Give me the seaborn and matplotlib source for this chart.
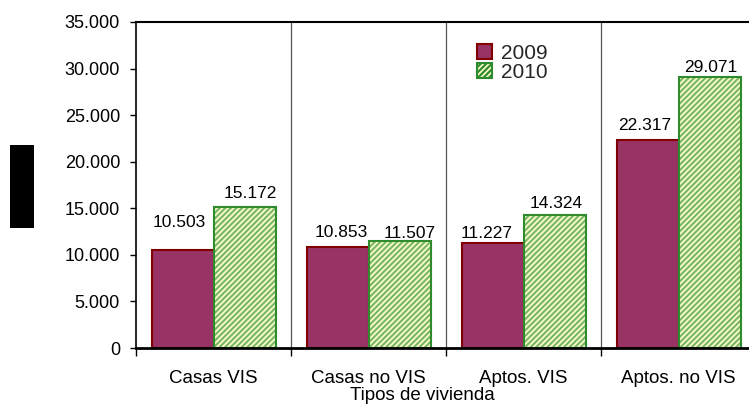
import matplotlib
matplotlib.use("Agg")
import matplotlib.pyplot as plt
import matplotlib.patches as mpatches
from matplotlib.ticker import FuncFormatter, FixedLocator
import seaborn as sns
import pandas as pd

categorias = ["Casas VIS", "Casas no VIS", "Aptos. VIS", "Aptos. no VIS"]
anios = ["2009", "2010"]
valores_2009 = [10503, 10853, 11227, 22317]
valores_2010 = [15172, 11507, 14324, 29071]
ticks_y = [0, 5000, 10000, 15000, 20000, 25000, 30000, 35000]

df = pd.DataFrame({
    "Tipo": categorias * 2,
    "Año": [anios[0]] * 4 + [anios[1]] * 4,
    "Valor": valores_2009 + valores_2010,
})

sns.set_theme(style="white")
plt.rcParams["font.family"] = ["Liberation Sans", "DejaVu Sans"]
plt.rcParams["hatch.linewidth"] = 1.6

fig = plt.figure(figsize=(7.49, 4.11), dpi=100)
ax = fig.add_axes([136 / 749, 1 - 348 / 411, 620 / 749, (348 - 22) / 411])

sns.barplot(data=df, x="Tipo", y="Valor", hue="Año", order=categorias,
            hue_order=anios, palette=["#993366", "#FFFFCC"], ax=ax,
            saturation=1, legend=False, width=0.8)

cont09, cont10 = ax.containers[0], ax.containers[1]
for p in cont09.patches:
    p.set_edgecolor("#800000")
    p.set_linewidth(1.5)
for p in cont10.patches:
    p.set_facecolor("#FFFFCC")
    p.set_edgecolor("#2E8B2E")
    p.set_hatch("//////")
    p.set_linewidth(1.5)
    p._hatch_color = matplotlib.colors.to_rgba("#7DB86A")

fmt = lambda v: f"{v:,.0f}".replace(",", ".")

# value labels: (dx, dy) offsets in points from the top centre of each bar
off_09 = [(-2.5, 17), (3, 7), (-4.5, 3.6), (-2, 7)]
off_10 = [(4, 6.5), (7, 2), (1, 5), (1, 3.6)]
for cont, vals, offs in [(cont09, valores_2009, off_09), (cont10, valores_2010, off_10)]:
    for p, v, (dx, dy) in zip(cont.patches, vals, offs):
        ax.annotate(fmt(v), (p.get_x() + p.get_width() / 2, v),
                    xytext=(dx, dy), textcoords="offset points",
                    ha="center", va="baseline", fontsize=12.5, color="black")

ax.set_xlim(-0.5, len(categorias) - 0.5)
ax.set_ylim(0, 35000)
ax.set_yticks(ticks_y)
ax.yaxis.set_major_formatter(FuncFormatter(lambda v, _: fmt(v)))

bounds = [i - 0.5 for i in range(len(categorias) + 1)]
ax.xaxis.set_minor_locator(FixedLocator(bounds))
ax.tick_params(axis="x", which="major", length=0, labelsize=13.5, pad=15.5, colors="black")
ax.tick_params(axis="x", which="minor", length=6, width=1, color="black", direction="out", bottom=True)
ax.tick_params(axis="y", which="major", length=4.5, width=1, color="black", direction="out",
               left=True, labelsize=13, pad=7, colors="black")

for b in bounds[1:-1]:
    ax.axvline(b, color="#555555", lw=0.9, zorder=0)

ax.set_xlabel("Tipos de vivienda", fontsize=13.5, color="black")
ax.xaxis.set_label_coords((422 - 136) / 620, -0.121)
ax.set_ylabel("")

for s in ["left", "top", "bottom"]:
    ax.spines[s].set_visible(True)
    ax.spines[s].set_color("black")
ax.spines["left"].set_linewidth(1.2)
ax.spines["top"].set_linewidth(1.5)
ax.spines["bottom"].set_linewidth(2)
ax.spines["right"].set_visible(False)

h09 = mpatches.Patch(facecolor="#993366", edgecolor="#800000", linewidth=1.5, label=anios[0])
h10 = mpatches.Patch(facecolor="#FFFFCC", edgecolor="#2E8B2E", linewidth=1.5,
                     hatch="//////", label=anios[1])
ax.legend(handles=[h09, h10], loc="upper left",
          bbox_to_anchor=((477 - 136) / 620, (348 - 44) / 326),
          frameon=False, fontsize=15, handlelength=0.7, handleheight=0.7,
          handletextpad=0.45, labelspacing=0.0, borderaxespad=0, borderpad=0)

fig.patches.append(mpatches.Rectangle((10 / 749, 1 - 228 / 411), 24 / 749, 83 / 411,
                                      transform=fig.transFigure, facecolor="black",
                                      edgecolor="none"))

fig.savefig("out.png", dpi=100)
